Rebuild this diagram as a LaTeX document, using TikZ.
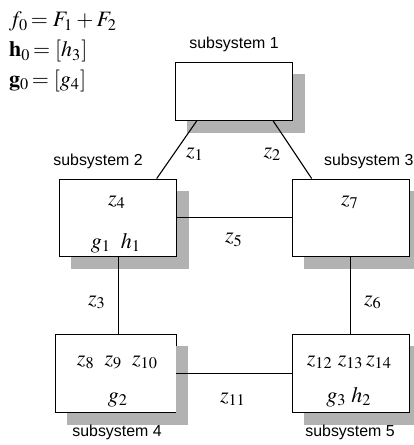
\documentclass[tikz,border=0pt]{standalone}
\usepackage{mathptmx}
\usepackage{graphicx}
\usepackage{fontspec}
\setsansfont{Liberation Sans}
\usetikzlibrary{calc}
\newcommand\Mth[1]{\scalebox{2.2}{$#1$}}
\tikzset{
  sys/.style={draw=black, line width=0.9pt, fill=white, rectangle, inner sep=0pt, minimum width=116.7pt},
  shadowbox/.style={fill=black!30, draw=none},
  link/.style={draw=black, line width=1.1pt},
  lab/.style={font=\fontsize{15.9}{18}\sffamily, anchor=base, inner sep=0pt},
  mlab/.style={anchor=base, inner sep=0pt},
}
\begin{document}
\begin{tikzpicture}[x=1pt,y=-1pt]
\useasboundingbox (0,0) rectangle (414,445);
% boxes
\node[sys, minimum height=58pt] (b1) at (234.2,91.5) {};
\node[sys, minimum height=77.7pt] (b2) at (117.7,217.85) {};
\node[sys, minimum height=77.7pt] (b3) at (350.7,217.85) {};
\node[sys, minimum height=78pt, minimum width=121pt] (b4) at (115.5,373.3) {};
\node[sys, minimum height=78pt] (b5) at (350.7,373.3) {};
% shadows
\foreach \b in {b1,b2,b3,b4,b5}{
  \fill[shadowbox] ($(\b.south west)+(12,0)$) rectangle ($(\b.south east)+(12,12)$);
  \fill[shadowbox] ($(\b.north east)+(0,12)$) rectangle ($(\b.south east)+(12,0)$);
}
% connectors
\draw[link] ([xshift=-37.5pt]b1.south) -- ([xshift=39pt]b2.north);
\draw[link] ([xshift=39pt]b1.south) -- ([xshift=-39pt]b3.north);
\draw[link] (b2.east) -- (b3.west);
\draw[link] ([xshift=1pt]b2.south) -- ([xshift=1pt]b2.south |- b4.north);
\draw[link] (b3.south) -- (b3.south |- b5.north);
\draw[link] (b4.east) -- (b5.west);
% subsystem labels
\node[lab] (l1) at (234,48) {subsystem 1};
\node[lab] (l2) at (98,165) {subsystem 2};
\node[lab, anchor=base west] (l3) at (324,165) {subsystem 3};
\node[lab] (l4) at (117,436) {subsystem 4};
\node[lab] (l5) at (350,436) {subsystem 5};
% math labels
\node[mlab, anchor=base west] (f0) at (9,26.7) {\Mth{f_0\!=F_1+F_2}};
\node[mlab, anchor=base west] (h0) at (9,56.7) {\Mth{\mathbf{h}_0\!=[h_3]}};
\node[mlab, anchor=base west] (g0) at (9,86) {\Mth{\mathbf{g}_0\!=[g_4]}};
\node[mlab] (z1) at (195,157) {\Mth{z_1}};
\node[mlab] (z2) at (272.5,157) {\Mth{z_2}};
\node[mlab] (z4) at (117,205) {\Mth{z_4}};
\node[mlab] (gh1) at (116,248.3) {\Mth{g_1\;\;h_1}};
\node[mlab] (z5) at (234,242.7) {\Mth{z_5}};
\node[mlab] (z7) at (350,205) {\Mth{z_7}};
\node[mlab] (z3) at (97,305) {\Mth{z_3}};
\node[mlab] (z6) at (373,305) {\Mth{z_6}};
\node[mlab] (z8) at (117.5,365) {\Mth{z_8\;\;z_9\;\;z_{10}}};
\node[mlab] (g2) at (118,402) {\Mth{g_2}};
\node[mlab] (z11) at (233,402) {\Mth{z_{11}}};
\node[mlab] (z12) at (349.5,365) {\Mth{z_{12}\;z_{13}\,z_{14}}};
\node[mlab] (gh2) at (349,402) {\Mth{g_3\;h_2}};
\end{tikzpicture}
\end{document}
